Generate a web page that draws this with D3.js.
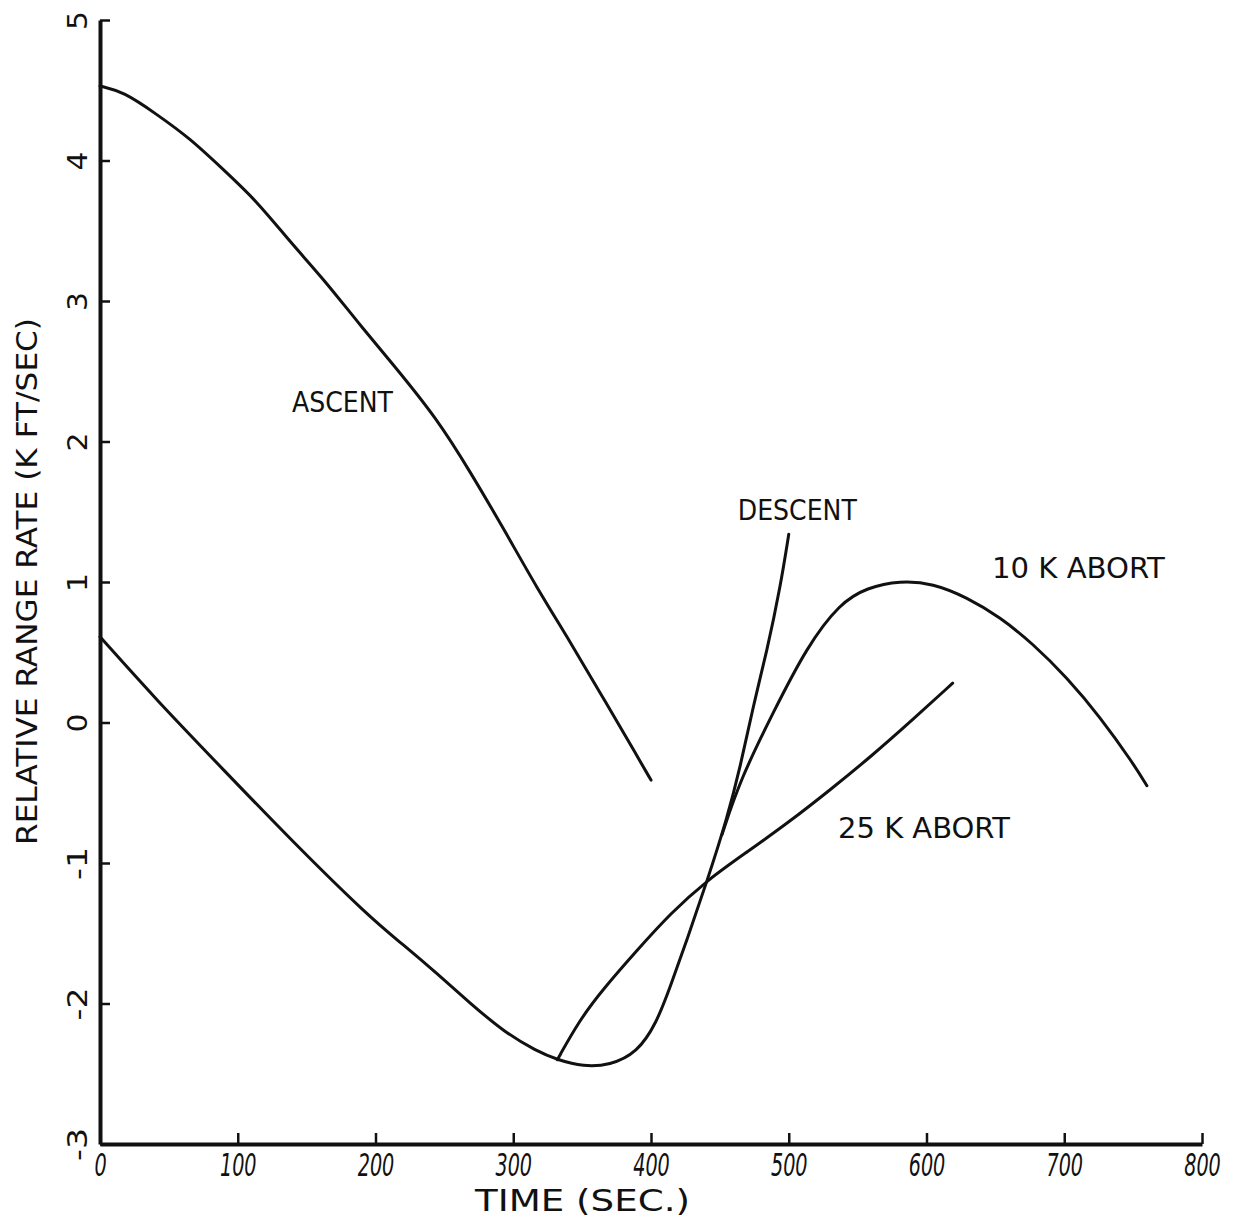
<!DOCTYPE html>
<html>
<head>
<meta charset="utf-8">
<script src="https://cdn.jsdelivr.net/npm/d3@7"></script>
<style>
  body { margin: 0; background: #fff; }
  svg { display: block; }
</style>
</head>
<body>
<svg id="chart" width="1235" height="1220"></svg>
<script>
// Tick values
const timeTicks = [0, 100, 200, 300, 400, 500, 600, 700, 800];
const rateTicks = [-3, -2, -1, 0, 1, 2, 3, 4, 5];

// ASCENT
const ascentTime = [0, 17, 41, 65, 89, 114, 138, 162, 187, 211, 245, 269, 293, 317, 341, 365, 390, 400];
const ascentRate = [4.53, 4.49, 4.33, 4.16, 3.94, 3.71, 3.42, 3.16, 2.85, 2.57, 2.16, 1.78, 1.38, 0.96, 0.58, 0.18, -0.24, -0.41];

// DESCENT
const descentTime = [0, 41, 89, 138, 196, 220, 245, 269, 293, 317, 332, 351, 370, 390, 404, 414, 426, 441, 455, 465, 474, 484, 494, 500];
const descentRate = [0.61, 0.16, -0.33, -0.83, -1.39, -1.58, -1.79, -2.00, -2.20, -2.34, -2.40, -2.45, -2.44, -2.35, -2.14, -1.88, -1.55, -1.12, -0.69, -0.31, 0.11, 0.50, 0.97, 1.34];

// 10 K ABORT
const abort10Time = [451.5, 464.6, 488.6, 513.2, 537.2, 556.8, 580.8, 604.7, 629.4, 653.4, 677.3, 702, 726, 750, 760];
const abort10Rate = [-0.80, -0.41, 0.07, 0.54, 0.85, 0.96, 1.01, 0.99, 0.89, 0.75, 0.56, 0.32, 0.04, -0.29, -0.45];

// 25 K ABORT
const abort25Time = [332, 348, 365, 390, 414, 441, 470, 500, 530, 560, 590, 619];
const abort25Rate = [-2.40, -2.12, -1.90, -1.62, -1.36, -1.12, -0.92, -0.71, -0.48, -0.24, 0.02, 0.28];

const curveNames = ["ASCENT", "DESCENT", "10 K ABORT", "25 K ABORT"];
const xTitle = "TIME (SEC.)";
const yTitle = "RELATIVE RANGE RATE (K FT/SEC)";

const svg = d3.select("#chart");
const W = 1235, H = 1220;
const margin = { left: 100, right: 33, top: 20, bottom: 76 };

const x = d3.scaleLinear().domain([0, 800]).range([margin.left, W - margin.right]);
const y = d3.scaleLinear().domain([-3, 5]).range([H - margin.bottom, margin.top]);

const ink = "#111";
const font = "'DejaVu Sans', sans-serif";

// Curves (B-spline smoothing through the read-off points)
const zip = (ts, vs) => ts.map((t, i) => [t, vs[i]]);
const line = d3.line().x(d => x(d[0])).y(d => y(d[1])).curve(d3.curveBasis);

const series = [
  zip(ascentTime, ascentRate),
  zip(descentTime, descentRate),
  zip(abort10Time, abort10Rate),
  zip(abort25Time, abort25Rate)
];

svg.append("g").selectAll("path")
  .data(series)
  .join("path")
  .attr("d", line)
  .attr("fill", "none")
  .attr("stroke", ink)
  .attr("stroke-width", 3)
  .attr("stroke-linecap", "round")
  .attr("stroke-linejoin", "round");

// X axis: ticks point up into the plot, narrow slanted digits
const gx = svg.append("g")
  .attr("transform", `translate(0,${y(-3)})`)
  .call(d3.axisBottom(x).tickValues(timeTicks).tickSizeInner(-11).tickSizeOuter(0).tickPadding(9).tickFormat(d3.format("d")));

gx.select(".domain").attr("stroke", ink).attr("stroke-width", 4);
gx.selectAll(".tick line").attr("stroke", ink).attr("stroke-width", 2.5);
gx.selectAll(".tick text")
  .attr("fill", ink)
  .attr("transform", "scale(0.6,1)")
  .style("font-family", font)
  .style("font-style", "oblique")
  .style("font-size", "32px");

// Y axis: ticks point right into the plot, labels turned on their side
const gy = svg.append("g")
  .attr("transform", `translate(${x(0)},0)`)
  .call(d3.axisLeft(y).tickValues(rateTicks).tickSizeInner(-10).tickSizeOuter(0).tickFormat(d3.format("d")));

gy.select(".domain").attr("stroke", ink).attr("stroke-width", 4);
gy.selectAll(".tick line").attr("stroke", ink).attr("stroke-width", 2.5);
gy.selectAll(".tick text")
  .attr("x", 0)
  .attr("dy", "0.36em")
  .attr("text-anchor", "middle")
  .attr("transform", "translate(-23,0) rotate(-90)")
  .attr("fill", ink)
  .style("font-family", font)
  .style("font-size", "27px")
  .attr("textLength", d => {
    const s = String(d);
    return s.replace("-", "").length * 19 + (s.includes("-") ? 14 : 0);
  })
  .attr("lengthAdjust", "spacingAndGlyphs")
  .text(d => String(d));

// Axis titles
svg.append("text")
  .attr("x", (475 + 690) / 2)
  .attr("y", 1211)
  .attr("text-anchor", "middle")
  .attr("fill", ink)
  .style("font-family", font)
  .style("font-size", "30px")
  .attr("textLength", 215)
  .attr("lengthAdjust", "spacingAndGlyphs")
  .text(xTitle);

svg.append("text")
  .attr("transform", `translate(37,${(318 + 845) / 2}) rotate(-90)`)
  .attr("text-anchor", "middle")
  .attr("fill", ink)
  .style("font-family", font)
  .style("font-size", "29px")
  .attr("textLength", 527)
  .attr("lengthAdjust", "spacingAndGlyphs")
  .text(yTitle);

// Curve labels, anchored at data coordinates
const labelSpots = [
  { t: 139.4, v: 2.21, len: 101 },
  { t: 463.0, v: 1.44, len: 119 },
  { t: 647.5, v: 1.03, len: 173 },
  { t: 535.8, v: -0.82, len: 172 }
];

svg.append("g").selectAll("text")
  .data(curveNames)
  .join("text")
  .attr("x", (d, i) => x(labelSpots[i].t))
  .attr("y", (d, i) => y(labelSpots[i].v))
  .attr("fill", ink)
  .style("font-family", font)
  .style("font-size", "28px")
  .attr("textLength", (d, i) => labelSpots[i].len)
  .attr("lengthAdjust", "spacingAndGlyphs")
  .text(d => d);
</script>
</body>
</html>
